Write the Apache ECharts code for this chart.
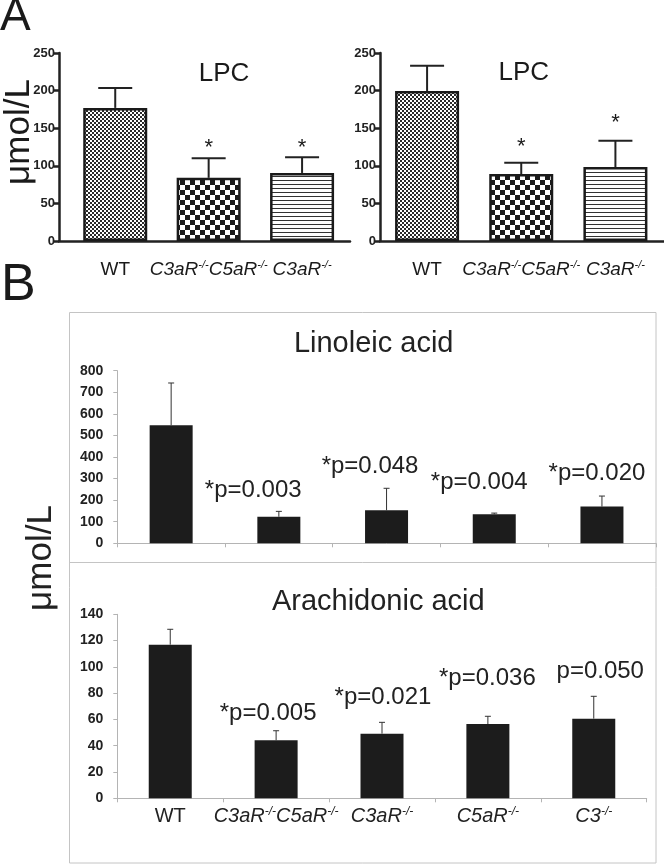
<!DOCTYPE html>
<html>
<head>
<meta charset="utf-8">
<script src="https://cdn.jsdelivr.net/npm/echarts@6/dist/echarts.min.js"></script>
<style>
  html, body { margin: 0; padding: 0; background: #fff; }
  #chart { width: 664px; height: 864px; }
</style>
</head>
<body>
<div id="chart"></div>
<script>
// ---- 数据 ----
var lpcCats = ['WT', 'C3aR-/-C5aR-/-', 'C3aR-/-'];
var lpcLeftMean = [177, 84, 90.5];
var lpcLeftErr = [26.5, 26, 21];
var lpcLeftStar = ['', '*', '*'];
var lpcRightMean = [199.5, 89, 98.4];
var lpcRightErr = [33.5, 15, 35];
var lpcRightStar = ['', '*', '*'];
var lpcTicks = [0, 50, 100, 150, 200, 250];

var acidCats = ['WT', 'C3aR-/-C5aR-/-', 'C3aR-/-', 'C5aR-/-', 'C3-/-'];
var linoleicMean = [547, 123, 153, 134.5, 170];
var linoleicErr = [196, 25, 102, 5.5, 49];
var linoleicP = ['', '*p=0.003', '*p=0.048', '*p=0.004', '*p=0.020'];
var linoleicTicks = [0, 100, 200, 300, 400, 500, 600, 700, 800];

var arachMean = [116.9, 44.1, 49.2, 56.5, 60.6];
var arachErr = [11.7, 7.3, 8.6, 5.9, 17];
var arachP = ['', '*p=0.005', '*p=0.021', '*p=0.036', 'p=0.050'];
var arachTicks = [0, 20, 40, 60, 80, 100, 120, 140];

// 标注文字相对误差线顶端的偏移 (px)
var lpcLeftStarOff = [[0, 0], [0, -10], [0, -9]];
var lpcRightStarOff = [[0, 0], [0, -15.5], [0, -17.5]];
var linoleicPOff = [[0, 0], [-25.6, -21.3], [-16.5, -21.6], [-15, -31], [-5, -22.3]];
var arachPOff = [[0, 0], [-8, -17.4], [1, -24.6], [-0.5, -37.6], [6.5, -25]];

var FONT = "'Liberation Sans', Arial, sans-serif";

// 柱子填充图案
function makePattern(kind) {
  var c = document.createElement('canvas');
  var ctx;
  if (kind === 'fine') {
    c.width = 4; c.height = 4;
    ctx = c.getContext('2d');
    ctx.fillStyle = '#fff'; ctx.fillRect(0, 0, 4, 4);
    ctx.fillStyle = '#2a2a2a'; ctx.fillRect(0, 0, 2, 2); ctx.fillRect(2, 2, 2, 2);
  } else if (kind === 'checker') {
    c.width = 10; c.height = 10;
    ctx = c.getContext('2d');
    ctx.fillStyle = '#fff'; ctx.fillRect(0, 0, 10, 10);
    ctx.fillStyle = '#1a1a1a'; ctx.fillRect(0, 0, 5, 5); ctx.fillRect(5, 5, 5, 5);
  } else {
    c.width = 4; c.height = 4;
    ctx = c.getContext('2d');
    ctx.fillStyle = '#fff'; ctx.fillRect(0, 0, 4, 4);
    ctx.fillStyle = '#333'; ctx.fillRect(0, 0, 4, 1);
  }
  return { image: c, repeat: 'repeat' };
}
var lpcPatterns = [makePattern('fine'), makePattern('checker'), makePattern('stripe')];

// 基因型标签: 斜体 + 上标
function geneLabel(v) {
  if (v === undefined) return '';
  if (v === 'WT') return '{n|WT}';
  var parts = v.split('-/-');
  var s = '';
  for (var k = 0; k < parts.length; k++) {
    if (parts[k]) s += '{it|' + parts[k] + '}';
    if (k < parts.length - 1) s += '{sup|-/-}';
  }
  return s;
}
function labelRich(size, color) {
  return {
    n: { fontSize: size, fontFamily: FONT, color: color, lineHeight: 22 },
    it: { fontSize: size, fontFamily: FONT, fontStyle: 'italic', color: color, lineHeight: 22 },
    sup: { fontSize: Math.round(size * 0.6), fontFamily: FONT, fontStyle: 'italic', color: color, lineHeight: 14, verticalAlign: 'top' }
  };
}

// 误差线 + 标注
function errSeries(idx, mean, err, texts, offs, cfg) {
  return {
    type: 'custom',
    xAxisIndex: idx,
    yAxisIndex: idx,
    z: 5,
    silent: true,
    data: mean.map(function (m, i) { return [i, m, m + err[i]]; }),
    encode: { x: 0, y: 2 },
    renderItem: function (params, api) {
      var i = params.dataIndex;
      var p0 = api.coord([api.value(0), api.value(1)]);
      var p1 = api.coord([api.value(0), api.value(2)]);
      var ls = { stroke: cfg.color, lineWidth: cfg.width };
      var children = [
        { type: 'line', shape: { x1: p0[0], y1: p0[1], x2: p1[0], y2: p1[1] }, style: ls },
        { type: 'line', shape: { x1: p1[0] - cfg.cap / 2, y1: p1[1], x2: p1[0] + cfg.cap / 2, y2: p1[1] }, style: ls }
      ];
      if (texts[i]) {
        children.push({
          type: 'text',
          style: {
            text: texts[i],
            x: p1[0] + offs[i][0],
            y: p1[1] + offs[i][1],
            font: cfg.font,
            fill: cfg.textColor,
            align: 'center', verticalAlign: 'middle',
            textAlign: 'center', textVerticalAlign: 'middle'
          }
        });
      }
      return { type: 'group', children: children };
    }
  };
}

function yAxisOf(idx, ticks, c) {
  return {
    type: 'value',
    gridIndex: idx,
    min: ticks[0],
    max: ticks[ticks.length - 1],
    interval: ticks[1] - ticks[0],
    axisLine: { show: true, onZero: false, lineStyle: { color: c.line, width: c.lineWidth } },
    axisTick: { show: true, inside: false, length: c.tick, lineStyle: { color: c.line, width: c.lineWidth } },
    splitLine: { show: false },
    axisLabel: { margin: c.margin, fontFamily: FONT, fontWeight: 'bold', fontSize: c.fontSize, color: '#222' }
  };
}

var aAxis = { line: '#222', lineWidth: 2.5, tick: 5, margin: 4, fontSize: 13 };
var bAxis = { line: '#b4b4b4', lineWidth: 1, tick: 4, margin: 14, fontSize: 14 };

var chart = echarts.init(document.getElementById('chart'), null, { renderer: 'canvas' });

var option = {
  animation: false,
  backgroundColor: '#fff',
  grid: [
    { left: 59, top: 53, width: 291, height: 188 },
    { left: 380, top: 53, width: 284, height: 188 },
    { left: 117.3, top: 370.7, width: 538.5, height: 172.6 },
    { left: 117.3, top: 614.3, width: 529.4, height: 184 }
  ],
  xAxis: [
    {
      type: 'value', gridIndex: 0, min: -0.602, max: 2.513,
      axisLine: { show: true, lineStyle: { color: '#222', width: 2.5 } },
      axisTick: { show: false }, splitLine: { show: false },
      axisLabel: {
        customValues: [0, 1, 2], margin: 18,
        formatter: function (v) { return geneLabel(lpcCats[v]); },
        rich: labelRich(19, '#1a1a1a')
      }
    },
    {
      type: 'value', gridIndex: 1, min: -0.5, max: 2.516,
      axisLine: { show: true, lineStyle: { color: '#222', width: 2.5 } },
      axisTick: { show: false }, splitLine: { show: false },
      axisLabel: {
        customValues: [0, 1, 2], margin: 18,
        formatter: function (v) { return geneLabel(lpcCats[v]); },
        rich: labelRich(19, '#1a1a1a')
      }
    },
    {
      type: 'category', gridIndex: 2, data: acidCats,
      axisLine: { show: true, lineStyle: { color: '#b4b4b4', width: 1 } },
      axisTick: { show: true, length: 4, interval: 0, lineStyle: { color: '#b4b4b4' } },
      axisLabel: { show: false }
    },
    {
      type: 'category', gridIndex: 3, data: acidCats,
      axisLine: { show: true, lineStyle: { color: '#b4b4b4', width: 1 } },
      axisTick: { show: true, length: 4, interval: 0, lineStyle: { color: '#b4b4b4' } },
      axisLabel: {
        interval: 0, margin: 7,
        formatter: function (v) { return geneLabel(v); },
        rich: labelRich(20, '#222')
      }
    }
  ],
  yAxis: [
    yAxisOf(0, lpcTicks, aAxis),
    yAxisOf(1, lpcTicks, aAxis),
    yAxisOf(2, linoleicTicks, bAxis),
    yAxisOf(3, arachTicks, bAxis)
  ],
  series: [
    {
      type: 'bar', xAxisIndex: 0, yAxisIndex: 0, barWidth: 64, silent: true,
      itemStyle: { borderColor: '#1a1a1a', borderWidth: 2.5 },
      data: lpcLeftMean.map(function (v, i) { return { value: [i, v], itemStyle: { color: lpcPatterns[i] } }; })
    },
    {
      type: 'bar', xAxisIndex: 1, yAxisIndex: 1, barWidth: 64, silent: true,
      itemStyle: { borderColor: '#1a1a1a', borderWidth: 2.5 },
      data: lpcRightMean.map(function (v, i) { return { value: [i, v], itemStyle: { color: lpcPatterns[i] } }; })
    },
    {
      type: 'bar', xAxisIndex: 2, yAxisIndex: 2, barWidth: 43, silent: true,
      itemStyle: { color: '#1c1c1c' },
      data: linoleicMean
    },
    {
      type: 'bar', xAxisIndex: 3, yAxisIndex: 3, barWidth: 43, silent: true,
      itemStyle: { color: '#1c1c1c' },
      data: arachMean
    },
    errSeries(0, lpcLeftMean, lpcLeftErr, lpcLeftStar, lpcLeftStarOff,
      { color: '#222', width: 2, cap: 34, font: '22px ' + FONT, textColor: '#1a1a1a' }),
    errSeries(1, lpcRightMean, lpcRightErr, lpcRightStar, lpcRightStarOff,
      { color: '#222', width: 2, cap: 34, font: '22px ' + FONT, textColor: '#1a1a1a' }),
    errSeries(2, linoleicMean, linoleicErr, linoleicP, linoleicPOff,
      { color: '#333', width: 1, cap: 6, font: '24px ' + FONT, textColor: '#222' }),
    errSeries(3, arachMean, arachErr, arachP, arachPOff,
      { color: '#333', width: 1, cap: 6, font: '24px ' + FONT, textColor: '#222' })
  ],
  graphic: [
    // B 面板边框
    { type: 'rect', shape: { x: 69.5, y: 312.5, width: 586.5, height: 550.5 }, style: { fill: 'none', stroke: '#c4c4c4', lineWidth: 1 }, z: 0 },
    { type: 'line', shape: { x1: 69.5, y1: 562.5, x2: 656, y2: 562.5 }, style: { stroke: '#c4c4c4', lineWidth: 1 }, z: 0 },
    // 字母
    { type: 'text', x: 0, y: 17, style: { text: 'A', font: '46px ' + FONT, fill: '#1a1a1a', align: 'left', verticalAlign: 'middle' } },
    { type: 'text', x: 1, y: 286, style: { text: 'B', font: '52px ' + FONT, fill: '#1a1a1a', align: 'left', verticalAlign: 'middle' } },
    // 标题
    { type: 'text', x: 224, y: 74.2, style: { text: 'LPC', font: '26px ' + FONT, fill: '#1a1a1a', align: 'center', verticalAlign: 'middle' } },
    { type: 'text', x: 523.8, y: 73, style: { text: 'LPC', font: '26px ' + FONT, fill: '#1a1a1a', align: 'center', verticalAlign: 'middle' } },
    { type: 'text', x: 373.7, y: 343.7, style: { text: 'Linoleic acid', font: '29px ' + FONT, fill: '#222', align: 'center', verticalAlign: 'middle' } },
    { type: 'text', x: 378.3, y: 602.2, style: { text: 'Arachidonic acid', font: '29px ' + FONT, fill: '#222', align: 'center', verticalAlign: 'middle' } },
    // 纵轴单位
    { type: 'text', x: 19, y: 132, rotation: Math.PI / 2, style: { text: 'μmol/L', font: '35px ' + FONT, fill: '#1a1a1a', align: 'center', verticalAlign: 'middle' } },
    { type: 'text', x: 41, y: 558, rotation: Math.PI / 2, style: { text: 'μmol/L', font: '35px ' + FONT, fill: '#222', align: 'center', verticalAlign: 'middle' } }
  ]
};

option && chart.setOption(option);
</script>
</body>
</html>
